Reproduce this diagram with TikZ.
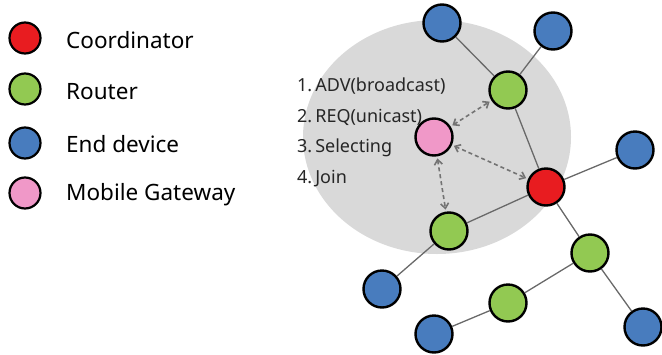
\documentclass[tikz,border=0pt]{standalone}
\usepackage{fontspec}
\setmainfont{Noto Sans}
\usetikzlibrary{arrows.meta}
\definecolor{cred}{RGB}{232,28,32}
\definecolor{cgreen}{RGB}{146,201,82}
\definecolor{cblue}{RGB}{72,124,190}
\definecolor{cpink}{RGB}{240,152,200}
\definecolor{cgrey}{RGB}{217,217,217}
\definecolor{cline}{RGB}{105,105,105}
\definecolor{cdash}{RGB}{115,115,115}
\begin{document}
\begin{tikzpicture}[x=1pt,y=-1pt,
  dev/.style={circle,draw=black,line width=2.4pt,minimum size=37pt,inner sep=0pt},
  leg/.style={circle,draw=black,line width=2.2pt,minimum size=31pt,inner sep=0pt},
  coord/.style={fill=cred},
  rout/.style={fill=cgreen},
  endd/.style={fill=cblue},
  mob/.style={fill=cpink},
  legtext/.style={anchor=west,font=\fontsize{22.5}{26}\selectfont,inner sep=0pt},
  steptext/.style={anchor=west,font=\fontsize{18}{21}\selectfont,text=black!85,inner sep=0pt},
  link/.style={draw=cline,line width=1.3pt},
  msg/.style={draw=cdash,line width=1.6pt,dash pattern=on 4pt off 3pt,{Straight Barb[length=5pt,width=8pt]}-{Straight Barb[length=5pt,width=8pt]},shorten <=2pt,shorten >=2pt}]
\useasboundingbox (0,0) rectangle (662,354);
% coverage area
\fill[cgrey] (437,137) ellipse [x radius=134, y radius=117];
% legend
\node[leg,coord] (l1) at (25,38) {};
\node[leg,rout] (l2) at (25,89) {};
\node[leg,endd] (l3) at (25,143) {};
\node[leg,mob] (l4) at (25,193) {};
\node[legtext] (t1) at (66,40) {Coordinator};
\node[legtext] (t2) at (66,92) {Router};
\node[legtext] (t3) at (66,144) {End device};
\node[legtext] (t4) at (66,195) {Mobile Gateway};
% steps
\node[steptext] (s1) at (297,86) {1.\,ADV(broadcast)};
\node[steptext] (s2) at (297,117) {2.\,REQ(unicast)};
\node[steptext] (s3) at (297,148) {3.\,Selecting};
\node[steptext] (s4) at (297,179) {4.\,Join};
% network nodes
\node[dev,endd] (etl) at (442,23) {};
\node[dev,endd] (etr) at (553,31) {};
\node[dev,rout] (rtop) at (508,90) {};
\node[dev,mob] (mg) at (434,137) {};
\node[dev,endd] (eright) at (635,150) {};
\node[dev,coord] (co) at (546,187) {};
\node[dev,rout] (rleft) at (449,231) {};
\node[dev,rout] (rright) at (590,253) {};
\node[dev,endd] (elb) at (382,289) {};
\node[dev,rout] (rbot) at (508,303) {};
\node[dev,endd] (ebl) at (434,334) {};
\node[dev,endd] (ebr) at (643,327) {};
% links
\draw[link] (etl) -- (rtop);
\draw[link] (etr) -- (rtop);
\draw[link] (rtop) -- (co);
\draw[link] (co) -- (eright);
\draw[link] (co) -- (rleft);
\draw[link] (rleft) -- (elb);
\draw[link] (co) -- (rright);
\draw[link] (rright) -- (ebr);
\draw[link] (rright) -- (rbot);
\draw[link] (rbot) -- (ebl);
% messages
\draw[msg] (mg) -- (rtop);
\draw[msg] (mg) -- (co);
\draw[msg] (mg) -- (rleft);
\end{tikzpicture}
\end{document}
